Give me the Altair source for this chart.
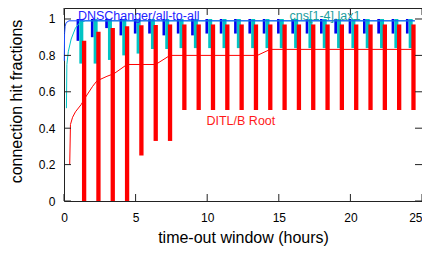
import altair as alt
import pandas as pd

# ---- data ----
hours = [1, 2, 3, 4, 5, 6, 7, 8, 9, 10, 11, 12, 13, 14, 15, 16, 17, 18, 19, 20, 21, 22, 23, 24]

blue_top = [1.0, 1.0, 1.0, 1.0, 1.0, 1.0, 1.0, 1.0, 1.0, 1.0, 1.0, 1.0,
            1.0, 1.0, 1.0, 1.0, 1.0, 1.0, 1.0, 1.0, 1.0, 1.0, 1.0, 1.0]
blue_bottom = [0.88, 0.90, 0.95, 0.91, 0.92, 0.92, 0.91, 0.92, 0.91, 0.92, 0.92, 0.92,
               0.92, 0.92, 0.92, 0.92, 0.92, 0.92, 0.92, 0.92, 0.92, 0.92, 0.92, 0.92]

cyan_top = [1.0, 1.0, 1.0, 1.0, 1.0, 1.0, 1.0, 1.0, 1.0, 1.0, 1.0, 1.0,
            1.0, 1.0, 1.0, 1.0, 1.0, 1.0, 1.0, 1.0, 1.0, 1.0, 1.0, 1.0]
cyan_bottom = [0.755, 0.755, 0.775, 0.80, 0.81, 0.835, 0.835, 0.84, 0.84, 0.84, 0.84, 0.84,
               0.84, 0.84, 0.84, 0.84, 0.84, 0.84, 0.84, 0.84, 0.84, 0.84, 0.84, 0.84]

red_top = [0.88, 0.93, 0.95, 0.96, 0.965, 0.967, 0.97, 0.97, 0.97, 0.97, 0.97, 0.97,
           0.97, 0.97, 0.97, 0.97, 0.97, 0.97, 0.97, 0.97, 0.97, 0.97, 0.97, 0.97]
red_bottom = [0.0, 0.0, 0.0, 0.0, 0.25, 0.33, 0.33, 0.5, 0.5, 0.5, 0.5, 0.5,
              0.5, 0.5, 0.5, 0.5, 0.5, 0.5, 0.5, 0.5, 0.5, 0.5, 0.5, 0.5]

blue_line_x = [0.02, 0.04, 0.08, 0.15, 0.35, 24.5]
blue_line_y = [0.77, 0.92, 0.96, 0.98, 0.99, 0.99]

cyan_line_x = [0.17, 0.2, 0.3, 0.5, 0.8, 1.1, 1.5, 24.5]
cyan_line_y = [0.51, 0.75, 0.82, 0.89, 0.95, 0.98, 0.99, 0.99]

red_line_x = [0.4, 0.45, 0.6, 0.8, 1.2, 1.5, 2.0, 2.3, 3.0, 3.5, 4.4, 6.4, 7.4, 13.5, 14.4, 24.5]
red_line_y = [0.2, 0.42, 0.46, 0.49, 0.53, 0.57, 0.63, 0.66, 0.685, 0.70, 0.75, 0.75, 0.80, 0.80, 0.833, 0.833]

label_text = ["DNSChanger/all-to-all", "cns[1-4].lax1", "DITL/B Root"]
label_x = [0.97, 15.75, 9.95]
label_y = [0.996, 0.996, 0.418]
label_color = ["#2424ff", "#1c9e9e", "#ff1a1a"]

x_ticks = [0, 5, 10, 15, 20, 25]
y_ticks = [0, 0.2, 0.4, 0.6, 0.8, 1.0]

# ---- chart ----
FONT = "Liberation Sans"
W, H = 358, 193
BLUE, CYAN, RED = "#0000f0", "#00c4c4", "#ff0000"

xs = alt.Scale(domain=[0, 25], nice=False, zero=False)
ys = alt.Scale(domain=[0, 1.0604], nice=False, zero=False)

bars = pd.DataFrame({
    "hour": hours,
    "blue_top": blue_top, "blue_bottom": blue_bottom,
    "cyan_top": cyan_top, "cyan_bottom": cyan_bottom,
    "red_top": red_top, "red_bottom": red_bottom,
})

x_axis = alt.Axis(values=x_ticks, format="d", title="time-out window (hours)",
                  ticks=False, tickSize=0, domain=False, grid=False,
                  labelFlush=False,
                  labelAlign={"condition": {"test": "datum.value >= 25", "value": "right"},
                              "value": "center"},
                  labelPadding=11, labelFontSize=12, labelFont=FONT, labelColor="#000",
                  titleFont=FONT, titleFontSize=16, titleFontWeight="normal", titleColor="#000",
                  titleY=41.5, titleBaseline="alphabetic")
y_axis = alt.Axis(values=y_ticks, format="~g", title="connection hit fractions",
                  ticks=False, tickSize=0, domain=False, grid=False,
                  labelFlush=False,
                  labelPadding=9, labelFontSize=12, labelFont=FONT, labelColor="#000",
                  titleFont=FONT, titleFontSize=16, titleFontWeight="normal", titleColor="#000",
                  titleX=-40, titleY=93, titleAngle=270, titleBaseline="bottom")


def X(field):
    return alt.X(field, scale=xs, axis=x_axis)


def Y(field):
    return alt.Y(field, scale=ys, axis=y_axis)


base = alt.Chart(bars)

blue_bars = base.mark_rule(color=BLUE, strokeWidth=2.7, xOffset=-0.4).encode(
    x=X("hour:Q"), y=Y("blue_bottom:Q"), y2="blue_top:Q")
cyan_bars = base.mark_rule(color=CYAN, strokeWidth=4, xOffset=3).encode(
    x=X("hour:Q"), y=Y("cyan_bottom:Q"), y2="cyan_top:Q")
red_bars = base.mark_rule(color=RED, strokeWidth=4.3, xOffset=5.8).encode(
    x=X("hour:Q"), y=Y("red_bottom:Q"), y2="red_top:Q")


def line(xv, yv, color):
    df = pd.DataFrame({"hour": xv, "frac": yv})
    return alt.Chart(df).mark_line(color=color, strokeWidth=1).encode(
        x=X("hour:Q"), y=Y("frac:Q"))


cyan_line = line(cyan_line_x, cyan_line_y, CYAN)
blue_line = line(blue_line_x, blue_line_y, "#1a4cff")
red_line = line(red_line_x, red_line_y, RED)

labels_df = pd.DataFrame({"t": label_text, "hour": label_x, "frac": label_y, "c": label_color})
labels = alt.Chart(labels_df).mark_text(align="left", baseline="alphabetic",
                                        font=FONT, fontSize=12.5).encode(
    x=X("hour:Q"), y=Y("frac:Q"),
    text="t:N",
    color=alt.Color("c:N", scale=None),
)

yt = pd.DataFrame({"frac": y_ticks})
xt = pd.DataFrame({"hour": x_ticks})
TICK = "#222"
left_ticks = alt.Chart(yt).mark_rule(color=TICK, strokeWidth=1).encode(
    y=Y("frac:Q"), x=alt.value(0), x2=alt.value(7))
right_ticks = alt.Chart(yt).mark_rule(color=TICK, strokeWidth=1).encode(
    y=Y("frac:Q"), x=alt.value(W - 7), x2=alt.value(W))
bottom_ticks = alt.Chart(xt).mark_rule(color=TICK, strokeWidth=1).encode(
    x=X("hour:Q"), y=alt.value(H - 7), y2=alt.value(H))
top_ticks = alt.Chart(xt).mark_rule(color=TICK, strokeWidth=1).encode(
    x=X("hour:Q"), y=alt.value(0), y2=alt.value(7))

chart = alt.layer(
    blue_bars, cyan_bars, red_bars,
    cyan_line, blue_line, red_line,
    labels,
    left_ticks, right_ticks, bottom_ticks, top_ticks,
).properties(
    width=W, height=H,
    background="white",
    padding={"left": 56, "top": 0, "right": 0, "bottom": 45},
    autosize=alt.AutoSizeParams(type="none"),
).configure_view(
    stroke="#222", strokeWidth=1
)

chart.save("out.html", embed_options={"renderer": "svg", "actions": False})
